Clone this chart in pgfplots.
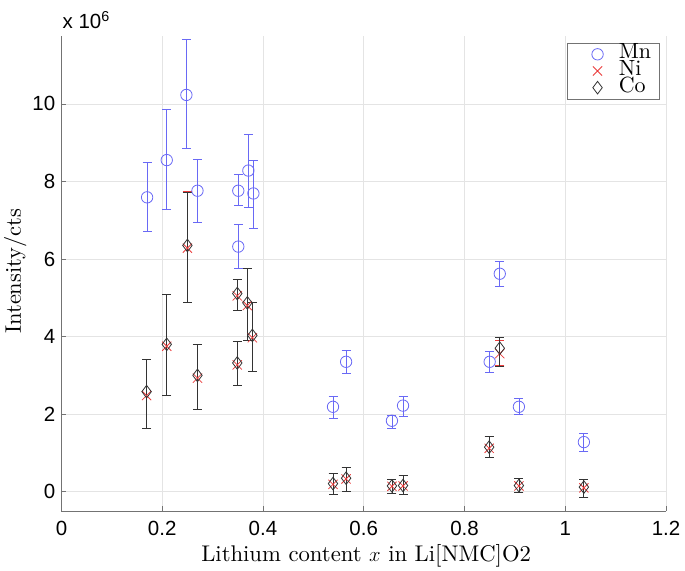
\documentclass[border=0pt]{standalone}
\usepackage{pgfplots}
\pgfplotsset{compat=1.18}
\usepackage{fontspec}
\setmainfont{lmroman10-regular}[Extension=.otf, ItalicFont=lmroman10-italic, BoldFont=lmroman10-bold]
\newfontfamily\ticksf{Liberation Sans}
\definecolor{mnblue}{RGB}{105,105,245}
\definecolor{nired}{RGB}{235,60,60}
\definecolor{gridgray}{RGB}{228,228,228}
\definecolor{axgray}{RGB}{115,115,115}
\pgfplotsset{mylegimg/.style={legend image code/.code={\path (0pt,0pt) (30pt,0pt); \draw[##1] plot coordinates {(23pt,0pt)};}}}
\begin{document}
\begin{tikzpicture}
\begin{axis}[
  name=ax,
  scale only axis,
  width=605pt, height=475.5pt,
  xmin=0, xmax=1.2, ymin=-0.5, ymax=11.75,
  xtick={0,0.2,...,1.2},
  xticklabels={0,0.2,0.4,0.6,0.8,1,1.2},
  ytick={0,2,4,6,8,10},
  scaled ticks=false,
  /pgf/number format/assume math mode=true,
  tick label style={font=\ticksf\fontsize{20.5}{20.5}\selectfont},
  xticklabel style={anchor=north, inner sep=0pt, yshift=-10pt},
  yticklabel style={anchor=east, inner sep=0pt, xshift=-6pt},
  axis x line*=bottom, axis y line*=left,
  axis line style={axgray, line width=0.8pt, -},
  tick style={axgray, line width=0.6pt},
  tick align=inside,
  major tick length=5pt,
  grid=major,
  major grid style={gridgray, line width=0.6pt},
  xlabel={Lithium content $x$ in Li[NMC]O2},
  ylabel={Intensity/cts},
  xlabel style={font=\fontsize{22.7}{22.7}\selectfont, at={([yshift=-50.2pt]axis description cs:0.504,0)}, anchor=base},
  ylabel style={font=\fontsize{22.5}{22.5}\selectfont, at={([xshift=-40.5pt]axis description cs:0,0.505)}, anchor=base},
  legend style={at={(axis description cs:1,1)}, anchor=north east,
    xshift=-6.7pt, yshift=-6.7pt,
    draw=axgray, line width=0.6pt, fill=white,
    font=\fontsize{22}{22}\selectfont,
    inner xsep=7pt, inner ysep=3pt, row sep=0pt, column sep=13pt,
    nodes={inner sep=0.85pt, text height=12pt, text depth=3pt}},
  legend cell align=left,
  clip=false,
]
\addplot[only marks, mark=o, mark size=5.7pt, color=mnblue, line width=0.8pt,
  mylegimg,
  error bars/.cd, y dir=both, y explicit,
  error bar style={mnblue, line width=0.8pt},
  error mark options={mnblue, mark size=4.5pt, line width=0.8pt, rotate=90}]
  table[x=x, y=y, y error plus=ep, y error minus=em] {
x y ep em
0.170 7.59 0.89 0.88
0.209 8.55 1.30 1.28
0.248 10.23 1.42 1.39
0.270 7.76 0.81 0.82
0.351 7.76 0.41 0.38
0.351 6.32 0.57 0.56
0.371 8.28 0.92 0.95
0.381 7.69 0.84 0.90
0.539 2.19 0.26 0.30
0.565 3.35 0.30 0.30
0.656 1.83 0.15 0.19
0.678 2.22 0.25 0.27
0.850 3.35 0.27 0.28
0.870 5.62 0.32 0.33
0.908 2.19 0.21 0.19
1.037 1.28 0.23 0.23
};
\addlegendentry{Mn}
\addplot[only marks, mark=x, mark size=6.5pt, color=nired, line width=0.8pt,
  mylegimg,
  error bars/.cd, y dir=both, y explicit,
  error bar style={nired, line width=0.8pt},
  error mark options={nired, mark size=4.5pt, line width=0.8pt, rotate=90}]
  table[x=x, y=y, y error plus=ep, y error minus=em] {
x y ep em
0.169 2.48 0.94 0.85
0.209 3.75 1.33 1.26
0.250 6.28 1.47 1.39
0.270 2.93 0.87 0.80
0.349 5.05 0.42 0.37
0.349 3.27 0.61 0.54
0.369 4.80 0.97 0.91
0.379 3.97 0.92 0.88
0.539 0.19 0.29 0.27
0.565 0.33 0.29 0.32
0.656 0.14 0.17 0.17
0.678 0.15 0.26 0.23
0.849 1.12 0.30 0.24
0.870 3.56 0.35 0.30
0.908 0.15 0.19 0.17
1.037 0.10 0.21 0.24
};
\addlegendentry{Ni}
\addplot[only marks, mark=diamond, mark size=6.3pt, color=black!80, line width=0.8pt,
  mylegimg,
  error bars/.cd, y dir=both, y explicit,
  error bar style={black!80, line width=0.8pt},
  error mark options={black!80, mark size=4.5pt, line width=0.8pt, rotate=90}]
  table[x=x, y=y, y error plus=ep, y error minus=em] {
x y ep em
0.169 2.58 0.84 0.95
0.209 3.80 1.28 1.31
0.250 6.35 1.37 1.46
0.270 3.00 0.80 0.87
0.349 5.11 0.36 0.43
0.349 3.32 0.56 0.59
0.369 4.87 0.90 0.98
0.379 4.03 0.86 0.94
0.539 0.21 0.27 0.29
0.565 0.35 0.27 0.34
0.656 0.15 0.16 0.18
0.678 0.16 0.25 0.24
0.849 1.15 0.27 0.27
0.870 3.70 0.28 0.48
0.908 0.16 0.18 0.18
1.037 0.12 0.19 0.26
};
\addlegendentry{Co}
\node[anchor=base west, inner sep=0pt, font=\ticksf\fontsize{20.5}{20.5}\selectfont]
  at ([shift={(1pt,7pt)}]rel axis cs:0,1) {x 10\textsuperscript{6}};
\end{axis}
\path ([shift={(-61.5pt,-59.5pt)}]ax.south west) rectangle ([shift={(19pt,36pt)}]ax.north east);
\end{tikzpicture}
\end{document}
